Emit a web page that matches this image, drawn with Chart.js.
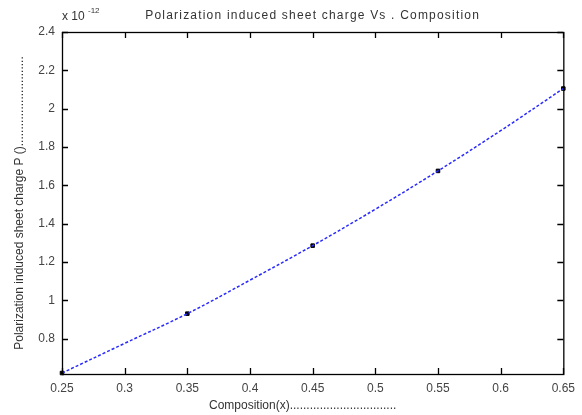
<!DOCTYPE html>
<html>
<head>
<meta charset="utf-8">
<script src="https://cdn.jsdelivr.net/npm/chart.js@4/dist/chart.umd.min.js"></script>
<style>
  body { margin: 0; background: #fff; }
  canvas { display: block; }
</style>
</head>
<body>
<canvas id="graph" width="582" height="415"></canvas>
<script>
// composition values and the charge (units of 1e-12)
const composition = [0.25, 0.3, 0.35, 0.4, 0.45, 0.5, 0.55, 0.6, 0.65];
const charge = [0.62, 0.775, 0.93, 1.105, 1.285, 1.475, 1.675, 1.885, 2.105];

const markerX = [0.25, 0.35, 0.45, 0.55, 0.65];
const markerY = [0.62, 0.93, 1.285, 1.675, 2.105];

const xTicks = [0.25, 0.3, 0.35, 0.4, 0.45, 0.5, 0.55, 0.6, 0.65];
const yTicks = [0.8, 1, 1.2, 1.4, 1.6, 1.8, 2, 2.2, 2.4];

const fontFam = "'Liberation Sans', Arial, sans-serif";

// matlab-ish box with inward ticks + the exponent label and title
const matlabBox = {
  id: "matlabBox",
  afterDraw(chart) {
    const ctx = chart.ctx;
    const a = chart.chartArea;
    const xs = chart.scales.x;
    const ys = chart.scales.y;
    ctx.save();
    ctx.strokeStyle = "#000";
    ctx.lineWidth = 1.3;
    ctx.strokeRect(a.left + 0.5, a.top + 0.5, a.right - a.left, a.bottom - a.top);
    ctx.beginPath();
    xs.ticks.forEach((t, i) => {
      const px = Math.round(xs.getPixelForTick(i)) + 0.5;
      ctx.moveTo(px, a.bottom);
      ctx.lineTo(px, a.bottom - 6);
      ctx.moveTo(px, a.top);
      ctx.lineTo(px, a.top + 6);
    });
    ys.ticks.forEach((t, i) => {
      const py = Math.round(ys.getPixelForTick(i)) + 0.5;
      ctx.moveTo(a.left, py);
      ctx.lineTo(a.left + 6, py);
      ctx.moveTo(a.right, py);
      ctx.lineTo(a.right - 6, py);
    });
    ctx.stroke();

    ctx.fillStyle = "#333";
    ctx.font = "12px " + fontFam;
    ctx.textBaseline = "alphabetic";
    ctx.textAlign = "left";
    ctx.fillText("x 10", a.left, 20);
    ctx.font = "8px " + fontFam;
    ctx.fillText("-12", a.left + 26, 13);

    ctx.font = "12px " + fontFam;
    ctx.letterSpacing = "1.2px";
    ctx.textAlign = "center";
    ctx.fillText("Polarization induced sheet charge Vs . Composition", (a.left + a.right) / 2, 19);
    ctx.restore();
  },
};

new Chart(document.getElementById("graph").getContext("2d"), {
  type: "line",
  data: {
    datasets: [
      {
        data: composition.map((x, i) => ({ x: x, y: charge[i] })),
        borderColor: "#2a2aff",
        borderWidth: 1.5,
        borderDash: [3, 2],
        pointRadius: 0,
        tension: 0.4,
        fill: false,
      },
      {
        type: "scatter",
        data: markerX.map((x, i) => ({ x: x, y: markerY[i] })),
        pointStyle: "rect",
        pointRadius: 2.5,
        backgroundColor: "#000",
        borderColor: "#000",
        clip: false,
      },
    ],
  },
  options: {
    responsive: false,
    animation: false,
    layout: { padding: { top: 32, right: 15, left: 0, bottom: 0 } },
    plugins: {
      legend: { display: false },
      tooltip: { enabled: false },
    },
    scales: {
      x: {
        type: "linear",
        min: 0.25,
        max: 0.65,
        grid: { display: false, drawTicks: false },
        border: { display: false },
        afterBuildTicks: (s) => { s.ticks = xTicks.map((v) => ({ value: v })); },
        ticks: {
          padding: 7,
          color: "#444",
          font: { family: fontFam, size: 12 },
          maxRotation: 0,
          autoSkip: false,
          callback: (v) => String(v),
        },
        title: {
          display: true,
          text: "Composition(x)................................      ",
          color: "#333",
          font: { family: fontFam, size: 12 },
          padding: { top: 0, bottom: 2 },
        },
        afterFit: (s) => { s.height = 41; },
      },
      y: {
        min: 0.615,
        max: 2.4,
        grid: { display: false, drawTicks: false },
        border: { display: false },
        afterBuildTicks: (s) => { s.ticks = yTicks.map((v) => ({ value: v })); },
        ticks: {
          padding: 7,
          color: "#444",
          font: { family: fontFam, size: 12 },
          autoSkip: false,
          callback: (v) => String(v),
        },
        title: {
          display: true,
          text: "Polarization induced sheet charge P ()...........................",
          color: "#333",
          font: { family: fontFam, size: 12 },
          padding: { top: 12, bottom: 0 },
        },
        afterFit: (s) => { s.width = 62; },
      },
    },
  },
  plugins: [matlabBox],
});
</script>
</body>
</html>
